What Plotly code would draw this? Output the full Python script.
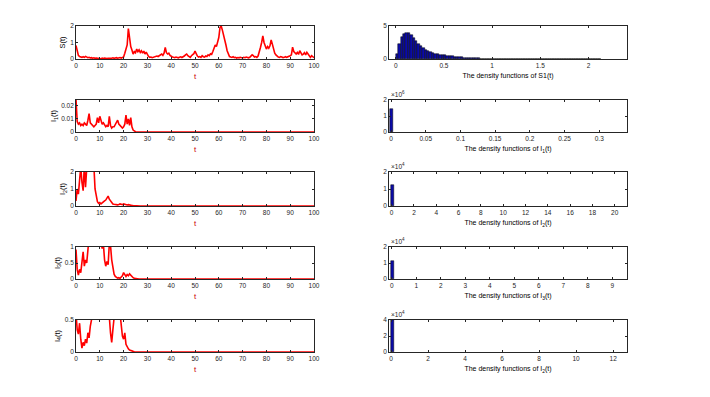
import plotly.graph_objects as go
from plotly.subplots import make_subplots

# ---------------- data ----------------
t_step = 0.5
S_vals = [
    0.82, 0.45, 0.22, 0.15, 0.12, 0.10, 0.14, 0.10, 0.16, 0.12,
    0.08, 0.10, 0.06, 0.08, 0.05, 0.07, 0.04, 0.06, 0.05, 0.03,
    0.04, 0.02, 0.05, 0.03, 0.06, 0.04, 0.03, 0.05, 0.04, 0.06,
    0.05, 0.07, 0.04, 0.06, 0.08, 0.05, 0.07, 0.09, 0.06, 0.10,
    0.12, 0.35, 0.60, 0.85, 1.85, 1.10, 0.75, 0.55, 0.30, 0.45,
    0.38, 0.60, 0.45, 0.55, 0.40, 0.50, 0.35, 0.48, 0.30, 0.42,
    0.25, 0.15, 0.10, 0.12, 0.08, 0.10, 0.14, 0.12, 0.18, 0.15,
    0.20, 0.25, 0.30, 0.22, 0.35, 0.70, 0.38, 0.30, 0.35, 0.22,
    0.15, 0.12, 0.10, 0.08, 0.12, 0.10, 0.07, 0.10, 0.13, 0.09,
    0.12, 0.18, 0.25, 0.30, 0.20, 0.15, 0.10, 0.20, 0.28, 0.32,
    0.48, 0.30, 0.18, 0.12, 0.15, 0.10, 0.20, 0.14, 0.12, 0.18,
    0.15, 0.25, 0.20, 0.32, 0.28, 0.45, 0.60, 0.85, 0.75, 1.10,
    1.30, 1.90, 2.00, 1.75, 1.50, 1.20, 0.85, 0.50, 0.30, 0.15,
    0.12, 0.10, 0.14, 0.08, 0.10, 0.06, 0.09, 0.07, 0.10, 0.08,
    0.06, 0.10, 0.08, 0.12, 0.09, 0.07, 0.10, 0.15, 0.25, 0.20,
    0.12, 0.15, 0.10, 0.18, 0.40, 0.70, 1.00, 1.40, 1.00, 0.80,
    0.60, 0.75, 0.65, 0.80, 1.15, 0.90, 0.60, 0.35, 0.25, 0.15,
    0.12, 0.10, 0.15, 0.12, 0.08, 0.10, 0.14, 0.10, 0.12, 0.15,
    0.20, 0.25, 0.72, 0.45, 0.35, 0.30, 0.40, 0.28, 0.50, 0.35,
    0.25, 0.30, 0.38, 0.25, 0.40, 0.30, 0.15, 0.10, 0.20, 0.12,
    0.08,
]

I1_vals = [
    0.025, 0.008, 0.006, 0.007, 0.005, 0.006, 0.005, 0.007, 0.006, 0.005,
    0.009, 0.014, 0.007, 0.006, 0.005, 0.004, 0.005, 0.006, 0.011, 0.007,
    0.012, 0.008, 0.006, 0.007, 0.005, 0.004, 0.005, 0.004, 0.012, 0.005,
    0.003, 0.004, 0.004, 0.006, 0.008, 0.009, 0.006, 0.005, 0.004, 0.003,
    0.004, 0.006, 0.013, 0.006, 0.010, 0.005, 0.011, 0.004, 0.0015, 0.0005,
    0.0002, 0, 0, 0, 0, 0, 0, 0, 0, 0, 0,
]
I2_vals = [
    0.30, 1.00, 0.70, 1.80, 2.30, 1.40, 0.90, 2.40, 1.10, 2.20,
    2.80, 3.00, 2.70, 3.20, 2.90, 2.40, 1.00, 0.50, 0.25, 0.15,
    0.20, 0.12, 0.20, 0.25, 0.30, 0.35, 0.45, 0.58, 0.40, 0.30,
    0.20, 0.12, 0.10, 0.08, 0.10, 0.07, 0.09, 0.12, 0.10, 0.08,
    0.12, 0.09, 0.10, 0.06, 0.08, 0.05, 0.06, 0.03, 0.02, 0.01,
    0.005, 0, 0, 0, 0, 0, 0, 0, 0, 0, 0,
]
I3_vals = [
    0.92, 0.30, 0.12, 0.30, 0.20, 0.50, 0.85, 0.40, 0.60, 0.50,
    1.05, 1.30, 1.50, 1.60, 1.40, 1.70, 1.50, 1.80, 1.60, 1.40,
    1.30, 1.15, 0.95, 1.10, 0.60, 0.40, 0.55, 0.45, 1.10, 1.05,
    0.60, 0.30, 0.15, 0.08, 0.05, 0.03, 0.04, 0.02, 0.06, 0.10,
    0.20, 0.12, 0.08, 0.14, 0.10, 0.16, 0.12, 0.06, 0.04, 0.02,
    0.01, 0, 0, 0, 0, 0, 0, 0, 0, 0, 0,
]
I4_vals = [
    0.60, 0.35, 0.28, 0.45, 0.20, 0.06, 0.15, 0.10, 0.20, 0.14,
    0.30, 0.22, 0.40, 0.55, 0.70, 0.80, 0.90, 0.85, 1.00, 0.90,
    0.80, 0.95, 0.85, 0.70, 0.75, 0.65, 0.70, 0.60, 0.55, 0.30,
    0.15, 0.35, 0.60, 0.80, 0.90, 0.85, 0.75, 0.60, 0.45, 0.25,
    0.20, 0.30, 0.12, 0.08, 0.05, 0.03, 0.02, 0.015, 0.01, 0.005,
    0.003, 0, 0, 0, 0, 0, 0, 0, 0, 0, 0,
]
t_end = 100
I_end_val = 0

# histogram of S (bin width 0.025, starting at 0)
S_bin_width = 0.025
S_hist = [
    0.7, 2.2, 3.4, 3.8, 4.0, 4.0, 3.7, 3.2, 2.7, 2.3,
    1.9, 1.6, 1.35, 1.15, 1.0, 0.9, 0.8, 0.72, 0.65, 0.6,
    0.55, 0.5, 0.45, 0.4, 0.35, 0.3, 0.27, 0.24, 0.2, 0.18,
    0.15, 0.13, 0.11, 0.09, 0.08, 0.07, 0.06, 0.05, 0.045, 0.04,
    0.035, 0.03, 0.028, 0.025, 0.022, 0.02, 0.018, 0.016, 0.015, 0.014,
    0.013, 0.012, 0.011, 0.01, 0.01, 0.009, 0.009, 0.008, 0.008, 0.007,
    0.007, 0.006, 0.006, 0.006, 0.005, 0.005, 0.005, 0.004, 0.004, 0.004,
    0.004, 0.003, 0.003, 0.003, 0.003, 0.003, 0.002, 0.002, 0.002, 0.002,
    0.002, 0.002, 0.001, 0.001, 0.001,
]
# single spike bars of the I densities (heights in units of the shown multiplier)
I1_hist_x, I1_hist_y = [0.0005], [1.45]
I2_hist_x, I2_hist_y = [0.1], [1.25]
I3_hist_x, I3_hist_y = [0.05], [1.15]
I4_hist_x, I4_hist_y = [0.08], [3.95]
hist_exponents = ["", "6", "4", "4", "4"]

left_ylabels = ["S(t)", "I<sub>1</sub>(t)", "I<sub>2</sub>(t)", "I<sub>3</sub>(t)", "I<sub>4</sub>(t)"]
right_xlabels = [
    "The density functions of S1(t)",
    "The density functions of I<sub>1</sub>(t)",
    "The density functions of I<sub>2</sub>(t)",
    "The density functions of I<sub>3</sub>(t)",
    "The density functions of I<sub>2</sub>(t)",
]

# ---------------- figure ----------------
t_S = [i * t_step for i in range(len(S_vals))]
t_I = [i * t_step for i in range(len(I1_vals))] + [t_end]

fig = make_subplots(rows=5, cols=2)

series = [S_vals, I1_vals + [I_end_val], I2_vals + [I_end_val], I3_vals + [I_end_val], I4_vals + [I_end_val]]
times = [t_S, t_I, t_I, t_I, t_I]
for r in range(5):
    fig.add_trace(go.Scatter(x=times[r], y=series[r], mode="lines",
                             line=dict(color="#ff0000", width=1.6), showlegend=False),
                  row=r + 1, col=1)

S_centers = [(i + 0.5) * S_bin_width for i in range(len(S_hist))]
bar_style = dict(marker=dict(color="#0b0ba8", line=dict(color="black", width=0.5)), showlegend=False)
fig.add_trace(go.Bar(x=S_centers, y=S_hist, width=S_bin_width, **bar_style), row=1, col=2)
fig.add_trace(go.Bar(x=I1_hist_x, y=I1_hist_y, width=0.004, **bar_style), row=2, col=2)
fig.add_trace(go.Bar(x=I2_hist_x, y=I2_hist_y, width=0.27, **bar_style), row=3, col=2)
fig.add_trace(go.Bar(x=I3_hist_x, y=I3_hist_y, width=0.12, **bar_style), row=4, col=2)
fig.add_trace(go.Bar(x=I4_hist_x, y=I4_hist_y, width=0.2, **bar_style), row=5, col=2)

W, H = 710, 397
OFF = 8  # page body margin
left_dom = [(76 - OFF) / W, (314 - OFF) / W]
right_dom = [(389 - OFF) / W, (627 - OFF) / W]
rows_px = [(26, 59), (100, 132), (172, 206), (247, 279), (320, 352)]

FONT = "Liberation Sans Narrow, Arial Narrow, Liberation Sans, Arial, sans-serif"
tickfont = dict(family=FONT, size=6.5, color="#262626")
axis_common = dict(showline=True, linecolor="#262626", linewidth=0.8, mirror="ticks",
                   ticks="inside", ticklen=2.5, tickcolor="#262626", tickwidth=0.7,
                   showgrid=False, zeroline=False, tickfont=tickfont, automargin=False)

left_yranges = [[0, 2], [0, 0.0245], [0, 2], [0, 1], [0, 0.5]]
left_yticks = [[0, 1, 2], [0, 0.01, 0.02], [0, 1, 2], [0, 0.5, 1], [0, 0.5]]
right_xranges = [[-0.07, 2.4], [-0.003, 0.34], [-0.24, 21.1], [-0.11, 9.6], [-0.11, 12.75]]
right_dticks = [0.5, 0.05, 2, 1, 2]
right_yranges = [[0, 5], [0, 2], [0, 2], [0, 2], [0, 4]]
right_yticks = [[0, 5], [0, 1, 2], [0, 1, 2], [0, 1, 2], [0, 2, 4]]

for r in range(5):
    top, bot = rows_px[r]
    ydom = [1 - (bot - OFF) / H, 1 - (top - OFF) / H]
    li = 2 * r + 1
    ri = 2 * r + 2
    lx = "xaxis" if li == 1 else f"xaxis{li}"
    ly = "yaxis" if li == 1 else f"yaxis{li}"
    rx, ry = f"xaxis{ri}", f"yaxis{ri}"
    fig.layout[lx].update(domain=left_dom, range=[0, 100], tickvals=list(range(0, 101, 10)),
                          title=dict(text="t", font=dict(family=FONT, size=8, color="#cc0000"), standoff=5),
                          **axis_common)
    fig.layout[ly].update(domain=ydom, range=left_yranges[r], tickvals=left_yticks[r],
                          title=dict(text=left_ylabels[r], font=dict(family=FONT, size=7.5, color="black"), standoff=3),
                          **axis_common)
    fig.layout[rx].update(domain=right_dom, range=right_xranges[r], dtick=right_dticks[r], tick0=0,
                          title=dict(text=right_xlabels[r], font=dict(family=FONT, size=7, color="black"), standoff=5),
                          **axis_common)
    fig.layout[ry].update(domain=ydom, range=right_yranges[r], tickvals=right_yticks[r], **axis_common)
    if hist_exponents[r]:
        fig.add_annotation(xref=f"x{ri} domain", yref=f"y{ri} domain", x=0, y=1,
                           xanchor="left", yanchor="bottom", showarrow=False,
                           text="×10<sup>" + hist_exponents[r] + "</sup>",
                           font=dict(family=FONT, size=6.5, color="#262626"))

fig.update_layout(width=W, height=H, margin=dict(l=0, r=0, t=0, b=0),
                  paper_bgcolor="white", plot_bgcolor="white", bargap=0,
                  font=dict(family=FONT))

fig.write_html("out.html")
